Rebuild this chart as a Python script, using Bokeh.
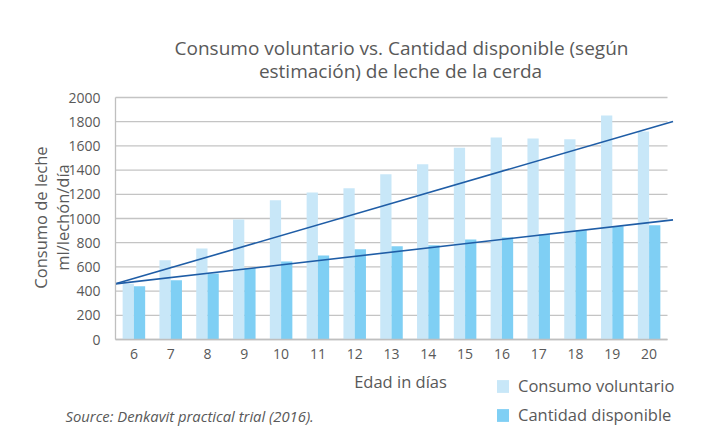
from bokeh.plotting import figure
from bokeh.models import ColumnDataSource, Range1d, Label, Legend, LegendItem, FixedTicker
from bokeh.transform import dodge
from bokeh.embed import file_html
from bokeh.resources import INLINE
import math

# ---- data ----
days = [6, 7, 8, 9, 10, 11, 12, 13, 14, 15, 16, 17, 18, 19, 20]
consumo_voluntario = [460, 655, 752, 992, 1150, 1215, 1250, 1365, 1448, 1585, 1670, 1662, 1655, 1852, 1718]
cantidad_disponible = [440, 490, 545, 590, 645, 695, 745, 770, 778, 826, 842, 870, 902, 935, 945]
trend_x = [5.5, 20.65]
trend_voluntario = [460, 1802]
trend_disponible = [460, 989]
y_ticks = [0, 200, 400, 600, 800, 1000, 1200, 1400, 1600, 1800, 2000]

title_lines = ["Consumo voluntario vs. Cantidad disponible (según", "estimación) de leche de la cerda"]
y_label_lines = ["Consumo de leche", "ml/lechón/día"]
x_label = "Edad in días"
source_note = "Source: Denkavit practical trial (2016)."

LIGHT = "#C8E7F8"
DARK = "#7FCFF4"
LINE = "#1F5DA6"
TEXT = "#595959"
GRID = "#C4C4C4"
FONT = "Open Sans"

W, H = 712, 436
# plot area placement on the canvas (pixels): data x 5.5..20.5, y 0..2000
PX_L, PX_R, PY_T, PY_B = 115, 667, 97, 339
X0, X1, Y0, Y1 = 5.5, 20.5, 0, 2000
kx = (X1 - X0) / (PX_R - PX_L)
ky = (Y1 - Y0) / (PY_B - PY_T)

def dx(px):
    return X0 + (px - PX_L) * kx
def dy(py):
    return Y0 + (PY_B - py) * ky

p = figure(width=W, height=H, output_backend="svg", toolbar_location=None,
           x_range=Range1d(dx(0), dx(W)), y_range=Range1d(dy(H), dy(0)),
           min_border_left=0, min_border_right=0, min_border_top=0, min_border_bottom=0)
p.outline_line_color = None
p.background_fill_color = "white"
p.border_fill_color = "white"

# grid lines (only across the plot area)
p.segment(x0=X0, x1=X1, y0=y_ticks, y1=y_ticks, line_color=GRID, line_width=1.3)

src = ColumnDataSource(dict(day=days, vol=consumo_voluntario, disp=cantidad_disponible))
r1 = p.vbar(x=dodge("day", -0.153, range=p.x_range), top="vol", bottom=0, width=0.306,
            source=src, fill_color=LIGHT, line_color=None)
r2 = p.vbar(x=dodge("day", 0.153, range=p.x_range), top="disp", bottom=0, width=0.306,
            source=src, fill_color=DARK, line_color=None)
p.line(trend_x, trend_voluntario, line_color=LINE, line_width=1.6)
p.line(trend_x, trend_disponible, line_color=LINE, line_width=1.6)

# axes fixed at the plot-area edges
p.xaxis.ticker = FixedTicker(ticks=days)
p.yaxis.ticker = FixedTicker(ticks=y_ticks)
p.xaxis.fixed_location = Y0
p.yaxis.fixed_location = X0
p.xaxis.bounds = (X0, X1)
p.yaxis.bounds = (Y0, Y1)
for ax in (p.xaxis, p.yaxis):
    ax.axis_line_color = "#BFBFBF"
    ax.axis_line_width = 1.3
    ax.major_tick_line_color = None
    ax.minor_tick_line_color = None
    ax.major_label_text_color = TEXT
    ax.major_label_text_font = FONT
    ax.major_label_text_font_size = "14px"
p.xaxis.major_label_standoff = 3
p.yaxis.major_label_standoff = 9
p.xgrid.grid_line_color = None
p.ygrid.grid_line_color = None

p.add_layout(Label(x=dx(401), y=dy(47), text=title_lines[0], text_align="center", text_baseline="middle",
                   text_font=FONT, text_font_size="19px", text_color=TEXT))
p.add_layout(Label(x=dx(400), y=dy(70), text=title_lines[1], text_align="center", text_baseline="middle",
                   text_font=FONT, text_font_size="19px", text_color=TEXT))
p.add_layout(Label(x=dx(40), y=dy(217), text=y_label_lines[0], angle=math.pi / 2, text_align="center",
                   text_baseline="middle", text_font=FONT, text_font_size="16.5px", text_color=TEXT))
p.add_layout(Label(x=dx(62), y=dy(217), text=y_label_lines[1], angle=math.pi / 2, text_align="center",
                   text_baseline="middle", text_font=FONT, text_font_size="16.5px", text_color=TEXT))
p.add_layout(Label(x=dx(400), y=dy(381), text=x_label, text_align="center", text_baseline="middle",
                   text_font=FONT, text_font_size="16.5px", text_color=TEXT))
p.add_layout(Label(x=dx(65), y=dy(415), text=source_note, text_align="left", text_baseline="middle",
                   text_font=FONT, text_font_size="14.8px", text_font_style="italic", text_color=TEXT))

legend = Legend(items=[LegendItem(label="Consumo voluntario", renderers=[r1]),
                       LegendItem(label="Cantidad disponible", renderers=[r2])],
                location=(495, H - 426), orientation="vertical")
legend.background_fill_alpha = 0
legend.border_line_color = None
legend.padding = 0
legend.margin = 0
legend.spacing = 6
legend.glyph_width = 15
legend.glyph_height = 16
legend.label_height = 20
legend.label_standoff = 8
legend.label_text_font = FONT
legend.label_text_font_size = "16.5px"
legend.label_text_color = TEXT
p.add_layout(legend, "center")

open("out.html", "w").write(file_html(p, INLINE))
